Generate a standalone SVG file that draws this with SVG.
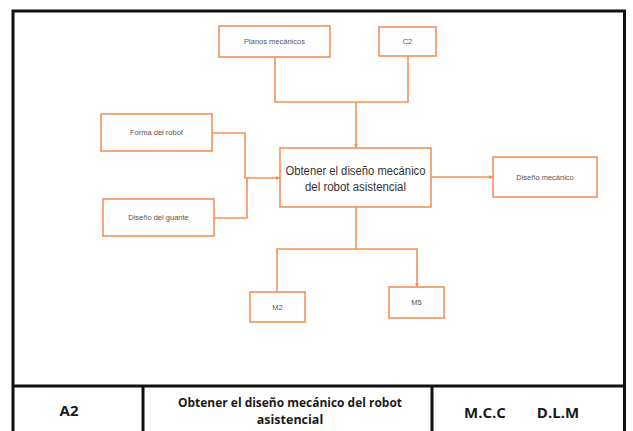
<svg xmlns="http://www.w3.org/2000/svg" width="633" height="431" viewBox="0 0 633 431">
  <style>
    .box { fill: #ffffff; stroke: #F29157; stroke-width: 1.6; }
    .wire { fill: none; stroke: #F29157; stroke-width: 1.6; }
    .lbl { font-family: "Liberation Sans", Arial, sans-serif; font-size: 7.5px; fill: #555555; text-anchor: middle; dominant-baseline: central; }
    .main { font-family: "Liberation Sans", Arial, sans-serif; font-size: 12px; fill: #333333; text-anchor: middle; dominant-baseline: central; }
    .frame { fill: none; stroke: #111111; stroke-width: 3; }
    .foot { font-family: "Open Sans", "Liberation Sans", sans-serif; font-weight: bold; fill: #1a1a1a; text-anchor: middle; dominant-baseline: central; }
  </style>
  <defs>
    <marker id="arrow" viewBox="0 0 6 6" refX="6" refY="3" markerWidth="4" markerHeight="4" orient="auto" markerUnits="userSpaceOnUse">
      <path d="M0,0 L6,3 L0,6 z" fill="#F29157"/>
    </marker>
  </defs>

  <rect width="633" height="431" fill="#ffffff"/>

  <!-- sheet frame and title block -->
  <g id="frame">
    <path class="frame" d="M13,440 V11 H624.5 V440"/>
    <line class="frame" x1="13" y1="386" x2="624.5" y2="386"/>
    <line class="frame" x1="143" y1="386" x2="143" y2="440"/>
    <line class="frame" x1="432" y1="386" x2="432" y2="440"/>
    <text class="foot" x="69" y="410" font-size="15">A2</text>
    <text class="foot" x="290" y="402" font-size="12.5" textLength="224" lengthAdjust="spacingAndGlyphs">Obtener el diseño mecánico del robot</text>
    <text class="foot" x="290" y="419" font-size="12.5">asistencial</text>
    <text class="foot" x="485" y="412" font-size="15">M.C.C</text>
    <text class="foot" x="558" y="412" font-size="15">D.L.M</text>
  </g>

  <!-- connectors -->
  <g id="connectors">
    <path class="wire" d="M275,57 V102 H408 V56"/>
    <path class="wire" d="M356,102 V148" marker-end="url(#arrow)"/>
    <path class="wire" d="M212,133 H245 V178 H280" marker-end="url(#arrow)"/>
    <path class="wire" d="M214,218 H247 V178"/>
    <path class="wire" d="M431,177 H493" marker-end="url(#arrow)"/>
    <path class="wire" d="M356,207 V249"/>
    <path class="wire" d="M277,292 V249 H417 V287" marker-end="url(#arrow)"/>
  </g>

  <g id="planos">
    <rect class="box" x="219" y="26" width="111" height="31"/>
    <text class="lbl" x="274.5" y="41.5">Planos mecánicos</text>
  </g>
  <g id="c2">
    <rect class="box" x="379" y="27" width="57" height="29"/>
    <text class="lbl" x="407.5" y="41.5">C2</text>
  </g>
  <g id="forma">
    <rect class="box" x="101" y="114" width="111" height="37"/>
    <text class="lbl" x="156.5" y="132.5">Forma del robot</text>
  </g>
  <g id="guante">
    <rect class="box" x="103" y="199" width="111" height="37"/>
    <text class="lbl" x="158.5" y="217.5">Diseño del guante</text>
  </g>
  <g id="central">
    <rect class="box" x="280" y="148" width="151" height="59"/>
    <text class="main" x="355.5" y="170.5" textLength="140" lengthAdjust="spacingAndGlyphs">Obtener el diseño mecánico</text>
    <text class="main" x="355.5" y="186.5" textLength="101" lengthAdjust="spacingAndGlyphs">del robot asistencial</text>
  </g>
  <g id="disenoMecanico">
    <rect class="box" x="493" y="157" width="104" height="40"/>
    <text class="lbl" x="545" y="177">Diseño mecánico</text>
  </g>
  <g id="m2">
    <rect class="box" x="250" y="292" width="55" height="30"/>
    <text class="lbl" x="277.5" y="307">M2</text>
  </g>
  <g id="m5">
    <rect class="box" x="389" y="287" width="55" height="31"/>
    <text class="lbl" x="416.5" y="302.5">M5</text>
  </g>
</svg>
